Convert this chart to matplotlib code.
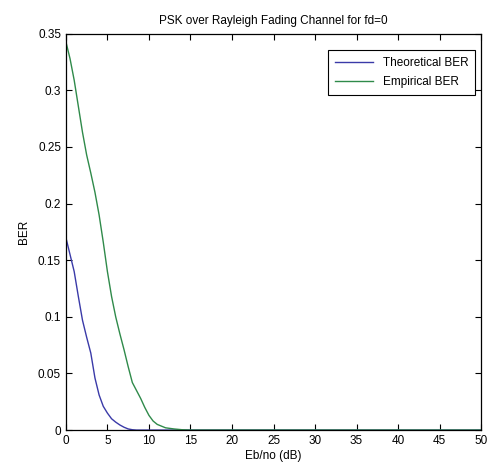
import matplotlib
matplotlib.use('Agg')
import matplotlib.pyplot as plt

# Eb/No axis (dB)
ebno = [0, 0.5, 1, 1.5, 2, 2.5, 3, 3.5, 4, 4.5, 5, 5.5, 6, 6.5, 7, 7.5, 8, 8.5,
        9, 9.5, 10, 10.5, 11, 12, 13, 14, 15, 20, 25, 30, 35, 40, 45, 50]

# BER curves
theory_ber = [0.170, 0.155, 0.140, 0.118, 0.097, 0.082, 0.068, 0.046, 0.031, 0.021,
              0.015, 0.010, 0.007, 0.0045, 0.0025, 0.001, 0.0003, 0.0,
              0.0, 0.0, 0.0, 0.0, 0.0, 0.0, 0.0, 0.0, 0.0, 0.0, 0.0, 0.0, 0.0, 0.0, 0.0, 0.0]
empirical_ber = [0.343, 0.328, 0.309, 0.286, 0.263, 0.243, 0.227, 0.210, 0.190, 0.166,
                 0.140, 0.118, 0.100, 0.085, 0.071, 0.056, 0.042, 0.035,
                 0.028, 0.020, 0.013, 0.008, 0.005, 0.002, 0.001, 0.0003, 0.0,
                 0.0, 0.0, 0.0, 0.0, 0.0, 0.0, 0.0]

xticks = [0, 5, 10, 15, 20, 25, 30, 35, 40, 45, 50]
yticks = [0, 0.05, 0.1, 0.15, 0.2, 0.25, 0.3, 0.35]


def main():
    plt.rcParams['font.family'] = ['Liberation Sans', 'DejaVu Sans']
    fig = plt.figure(figsize=(4.88, 4.69), dpi=100)
    ax = fig.add_axes([0.135, 0.083, 0.851, 0.845])

    ax.plot(ebno, theory_ber, color='#3a3aa8', lw=1, label='Theoretical BER')
    ax.plot(ebno, empirical_ber, color='#2f8a4a', lw=1, label='Empirical BER')

    ax.set_xlim(0, 50)
    ax.set_ylim(0, 0.35)
    ax.set_xticks(xticks)
    ax.set_xticklabels([str(t) for t in xticks])
    ax.set_yticks(yticks)
    ax.set_yticklabels(['0', '0.05', '0.1', '0.15', '0.2', '0.25', '0.3', '0.35'])
    ax.tick_params(direction='in', top=True, right=True, labelsize=8.5, length=4)
    for s in ax.spines.values():
        s.set_linewidth(0.9)

    ax.set_title('PSK over Rayleigh Fading Channel for fd=0', fontsize=8.5, pad=7)
    ax.set_xlabel('Eb/no (dB)', fontsize=8.5, labelpad=2)
    ax.set_ylabel('BER', fontsize=8.5, labelpad=6)

    leg = ax.legend(loc='upper right', bbox_to_anchor=(1.0, 0.975), fontsize=8.5,
                    fancybox=False, edgecolor='black', framealpha=1,
                    handlelength=3.2, borderpad=0.6, labelspacing=0.6)
    leg.get_frame().set_linewidth(0.8)

    fig.savefig('out.png', dpi=100)


if __name__ == '__main__':
    main()
